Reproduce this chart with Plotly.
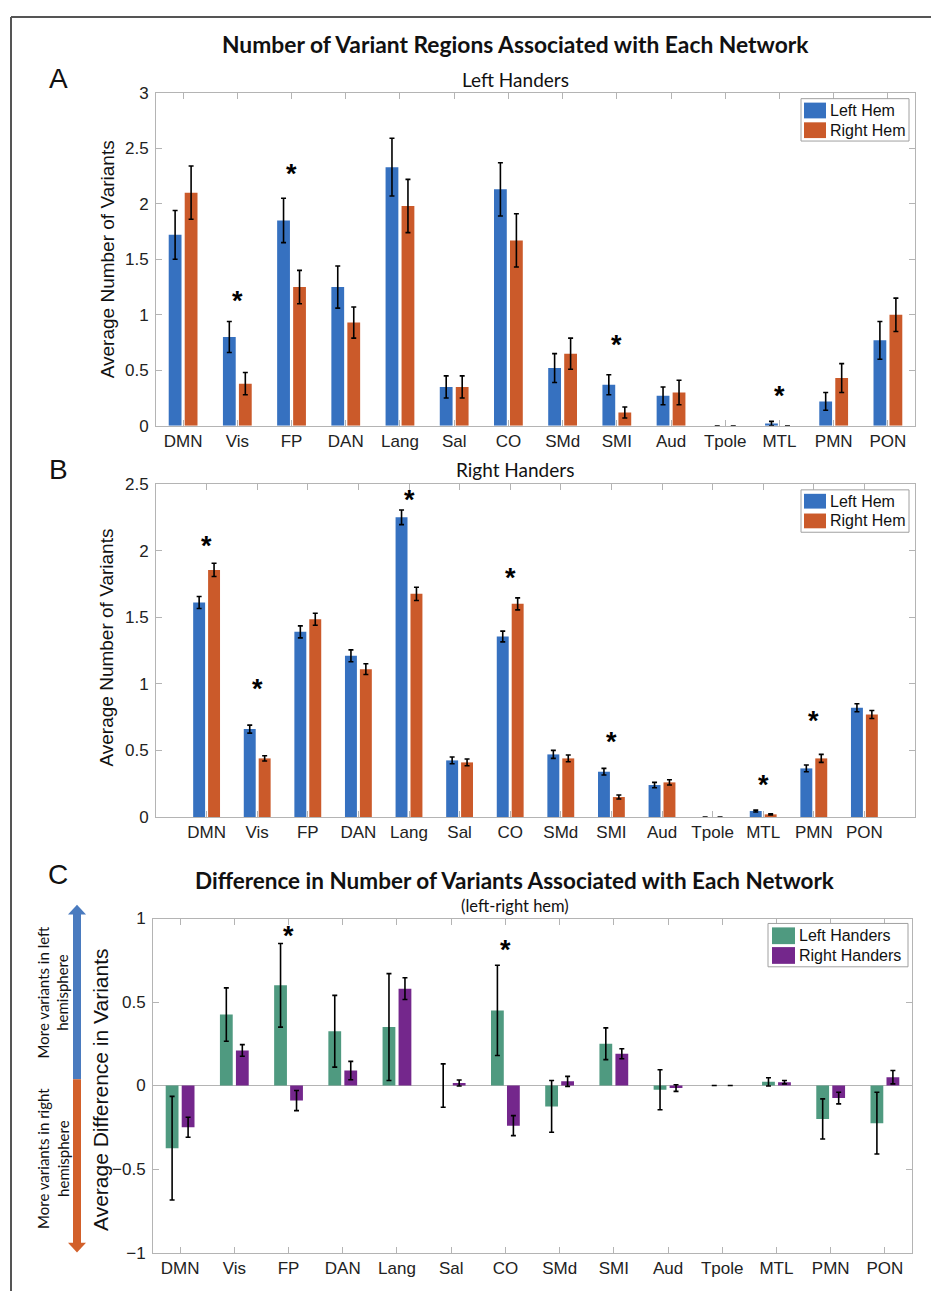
import plotly.graph_objects as go

W, H = 931, 1301

networks = ["DMN", "Vis", "FP", "DAN", "Lang", "Sal", "CO", "SMd", "SMI", "Aud", "Tpole", "MTL", "PMN", "PON"]

# Panel A: Left handers
a_left = [1.72, 0.80, 1.85, 1.25, 2.33, 0.35, 2.13, 0.52, 0.37, 0.27, 0.0, 0.02, 0.22, 0.77]
a_left_err = [0.22, 0.14, 0.20, 0.19, 0.26, 0.10, 0.24, 0.13, 0.09, 0.08, 0.0, 0.02, 0.08, 0.17]
a_right = [2.10, 0.38, 1.25, 0.93, 1.98, 0.35, 1.67, 0.65, 0.12, 0.30, 0.0, 0.0, 0.43, 1.00]
a_right_err = [0.24, 0.10, 0.15, 0.14, 0.24, 0.10, 0.24, 0.14, 0.05, 0.11, 0.0, 0.0, 0.13, 0.15]
a_star_net = ["Vis", "FP", "SMI", "MTL"]
a_star_y = [1.165, 2.31, 0.77, 0.31]

# Panel B: Right handers
b_left = [1.61, 0.66, 1.39, 1.21, 2.25, 0.425, 1.355, 0.47, 0.34, 0.24, 0.0, 0.045, 0.365, 0.82]
b_left_err = [0.045, 0.03, 0.045, 0.045, 0.055, 0.025, 0.04, 0.03, 0.025, 0.02, 0.0, 0.007, 0.025, 0.03]
b_right = [1.855, 0.44, 1.485, 1.11, 1.675, 0.41, 1.60, 0.44, 0.15, 0.26, 0.0, 0.02, 0.44, 0.77]
b_right_err = [0.05, 0.02, 0.045, 0.04, 0.05, 0.025, 0.045, 0.025, 0.015, 0.02, 0.0, 0.005, 0.03, 0.03]
b_star_net = ["DMN", "Vis", "Lang", "CO", "SMI", "MTL", "PMN"]
b_star_y = [2.07, 1.0, 2.42, 1.83, 0.60, 0.28, 0.76]

# Panel C: difference (left - right hem)
c_lh = [-0.375, 0.425, 0.60, 0.325, 0.35, 0.0, 0.45, -0.125, 0.25, -0.025, 0.0, 0.022, -0.20, -0.225]
c_lh_err = [0.31, 0.16, 0.25, 0.215, 0.32, 0.13, 0.27, 0.155, 0.095, 0.12, 0.0, 0.025, 0.12, 0.185]
c_rh = [-0.25, 0.21, -0.09, 0.09, 0.58, 0.015, -0.24, 0.025, 0.19, -0.015, 0.0, 0.02, -0.075, 0.05]
c_rh_err = [0.06, 0.035, 0.06, 0.055, 0.065, 0.018, 0.06, 0.03, 0.03, 0.02, 0.0, 0.01, 0.035, 0.04]
c_star_net = ["FP", "CO"]
c_star_y = [0.925, 0.84]

BLUE = "#3671c0"
ORANGE = "#cb5a2a"
GREEN = "#4f9a80"
PURPLE = "#74278c"
AXC = "#b4b4b4"
ARIAL = "Liberation Sans, Arial, sans-serif"
TICKFONT = dict(family=ARIAL, size=17, color="#222222")
CAL = "Lato, Liberation Sans, sans-serif"


def px(x):
    return x / W


def py(y):
    return 1 - y / H


fig = go.Figure()


def err(arr):
    return dict(type="data", array=arr, visible=True, color="black", thickness=1.6, width=2.5)


def bars(x, y, e, name, color, xa, ya):
    fig.add_trace(go.Bar(x=x, y=y, name=name, marker=dict(color=color, line=dict(width=0)),
                         error_y=err(e), xaxis=xa, yaxis=ya, showlegend=False))


bars(networks, a_left, a_left_err, "Left Hem", BLUE, "x", "y")
bars(networks, a_right, a_right_err, "Right Hem", ORANGE, "x", "y")
bars(networks, b_left, b_left_err, "Left Hem", BLUE, "x2", "y2")
bars(networks, b_right, b_right_err, "Right Hem", ORANGE, "x2", "y2")
bars(networks, c_lh, c_lh_err, "Left Handers", GREEN, "x3", "y3")
bars(networks, c_rh, c_rh_err, "Right Handers", PURPLE, "x3", "y3")


def xax(dom, yanchor, rng):
    return dict(domain=dom, anchor=yanchor, type="category", range=rng, showline=True,
                linecolor=AXC, linewidth=1, mirror="allticks", ticks="inside", ticklen=6,
                tickcolor=AXC, tickfont=TICKFONT, showgrid=False, zeroline=False,
                categoryorder="array", categoryarray=networks)


def yax(dom, xanchor, rng, dtick, zeroline=False):
    return dict(domain=dom, anchor=xanchor, range=rng, dtick=dtick, showline=True,
                linecolor=AXC, linewidth=1, mirror="allticks", ticks="inside", ticklen=6,
                tickcolor=AXC, tickfont=TICKFONT, showgrid=False, zeroline=zeroline,
                zerolinecolor=AXC, zerolinewidth=1, ticklabelstandoff=3)


# plot areas in pixels
A = (156, 915, 85, 423)
B = (156, 915, 482, 820)
C = (153, 912, 923, 1262)

layout = dict(
    width=W, height=H, autosize=False,
    margin=dict(l=0, r=0, t=0, b=0),
    paper_bgcolor="white", plot_bgcolor="white",
    barmode="group", bargap=0.41, bargroupgap=0.2,
    xaxis=xax([px(A[0]), px(A[1])], "y", [-0.5, 13.5]),
    yaxis=yax([py(A[3]), py(A[2])], "x", [0, 3], 0.5),
    xaxis2=xax([px(B[0]), px(B[1])], "y2", [-1, 14]),
    yaxis2=yax([py(B[3]), py(B[2])], "x2", [0, 2.5], 0.5),
    xaxis3=xax([px(C[0]), px(C[1])], "y3", [-0.5, 13.5]),
    yaxis3=yax([py(C[3]), py(C[2])], "x3", [-1, 1], 0.5, zeroline=True),
    showlegend=False,
)
fig.update_layout(**layout)

ann = []
shapes = []


def text(x, y, s, size, family=CAL, angle=0, bold=False, color="#111111", xanchor="center"):
    if bold:
        s = "<b>" + s + "</b>"
    ann.append(dict(x=px(x), y=py(y), xref="paper", yref="paper", text=s, showarrow=False,
                    font=dict(family=family, size=size, color=color), textangle=angle,
                    xanchor=xanchor, yanchor="middle"))


def rect(x0, y0, x1, y1, fill, line=None):
    shapes.append(dict(type="rect", xref="paper", yref="paper", x0=px(x0), x1=px(x1), y0=py(y1), y1=py(y0),
                       fillcolor=fill, line=line or dict(width=0)))


# significance asterisks
for sx, sy, xa, ya in [(a_star_net, a_star_y, "x", "y"), (b_star_net, b_star_y, "x2", "y2"),
                       (c_star_net, c_star_y, "x3", "y3")]:
    for n, v in zip(sx, sy):
        ann.append(dict(x=n, y=v, xref=xa, yref=ya, text="<b>*</b>", showarrow=False,
                        font=dict(family=ARIAL, size=27, color="black"), yshift=-5,
                        xanchor="center", yanchor="middle"))

text(515, 36, "Number of Variant Regions Associated with Each Network", 22.8, bold=True)
text(515, 72, "Left Handers", 19)
text(515, 467, "Right Handers", 19)
text(515, 884, "Difference in Number of Variants Associated with Each Network", 22.5, bold=True)
text(515, 910, "(left-right hem)", 16.5)
text(58, 71, "A", 28, family=ARIAL)
text(58, 467, "B", 28, family=ARIAL)
text(58, 878, "C", 28, family=ARIAL)
text(107, 254, "Average Number of Variants", 19, family=ARIAL, angle=-90)
text(107, 648, "Average Number of Variants", 19, family=ARIAL, angle=-90)
text(101, 1097, "Average Difference in Variants", 21, family=ARIAL, angle=-90)
text(53, 998, "More variants in left<br>hemisphere", 15, angle=-90)
text(53, 1167, "More variants in right<br>hemisphere", 15, angle=-90)

# legends (drawn as boxes, swatches and labels)
LEGBOX = dict(color="#a0a0a0", width=1)


def legend(box, sw_x, rows, items):
    rect(box[0], box[1], box[2], box[3], "white", LEGBOX)
    for (y0, y1), (label, color) in zip(rows, items):
        rect(sw_x[0], y0, sw_x[1], y1, color)
        text(sw_x[1] + 2, (y0 + y1) / 2, label, 16, family=ARIAL, xanchor="left")


legend((801, 91, 909, 134), (804, 826), [(95, 111), (115, 131)], [("Left Hem", BLUE), ("Right Hem", ORANGE)])
legend((801, 488, 909, 531), (804, 826), [(492, 507), (512, 527)], [("Left Hem", BLUE), ("Right Hem", ORANGE)])
legend((768, 928, 908, 972), (772, 795), [(932, 949), (952, 969)], [("Left Handers", GREEN), ("Right Handers", PURPLE)])

# outer frame (top and left edges)
shapes.append(dict(type="line", xref="paper", yref="paper", x0=px(11), x1=1, y0=py(8), y1=py(8),
                   line=dict(color="#555555", width=2)))
shapes.append(dict(type="line", xref="paper", yref="paper", x0=px(11), x1=px(11), y0=py(8), y1=0,
                   line=dict(color="#555555", width=2)))
# double-headed arrow in panel C
ABLUE = "#4a7bbf"
AORNG = "#d2602a"
rect(73, 917, 81, 1086, ABLUE)
rect(73, 1086, 81, 1254, AORNG)
shapes.append(dict(type="path", xref="paper", yref="paper",
                   path=f"M {px(68)} {py(919)} L {px(86)} {py(919)} L {px(77)} {py(909)} Z",
                   line=dict(width=0), fillcolor=ABLUE))
shapes.append(dict(type="path", xref="paper", yref="paper",
                   path=f"M {px(68)} {py(1252)} L {px(86)} {py(1252)} L {px(77)} {py(1262)} Z",
                   line=dict(width=0), fillcolor=AORNG))

fig.update_layout(annotations=ann, shapes=shapes)

fig.write_html("out.html")
